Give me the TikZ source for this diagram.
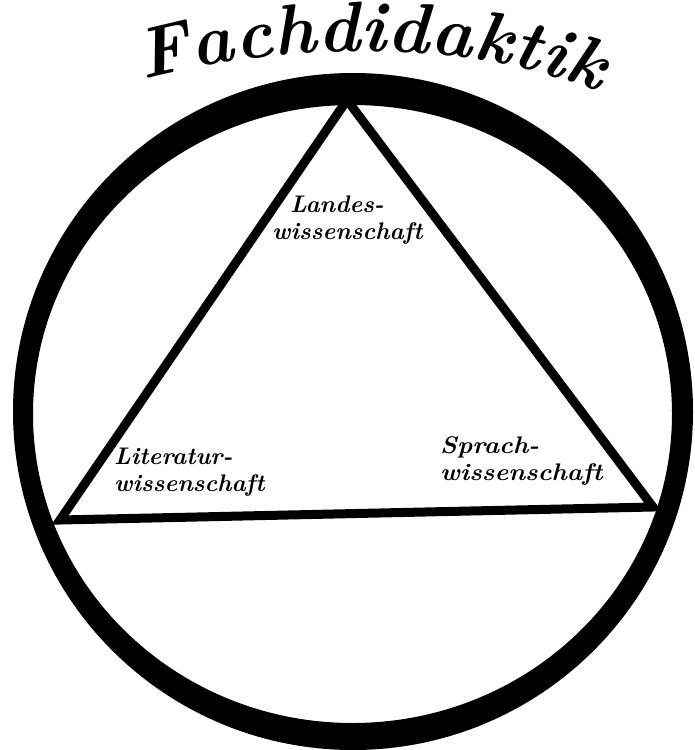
\documentclass[tikz,border=0pt]{standalone}
\usetikzlibrary{decorations.text}
\begin{document}
\begin{tikzpicture}[x=1pt,y=-1pt,
  hand/.style={font=\fontsize{24}{27}\selectfont\bfseries\itshape, inner sep=0pt, align=left},
  side/.style={line width=9pt, line cap=round, line join=miter}]
\useasboundingbox (0,0) rectangle (694,750);
\clip (0,0) rectangle (694,750);
% thick ring
\fill[black, even odd rule] (353,411.5) ellipse [x radius=340pt, y radius=338.5pt]
      (352.5,414) ellipse [x radius=319.5pt, y radius=309pt];
% triangle
\coordinate (A) at (347,100);
\coordinate (B) at (60,520);
\coordinate (C) at (653,507);
\draw[side] (A) -- (B) -- (C) -- cycle;
% title along arc
\path[decorate, decoration={text along path, text align=fit to path,
  text={|\fontsize{71}{71}\selectfont\bfseries\itshape|Fachdidaktik}}]
  (144,80) .. controls (290,40) and (470,40) .. (598,92);
% labels
\node[hand, anchor=north west] (land) at (272,196) {\hspace*{18pt}Landes-\\wissenschaft};
\node[hand, anchor=north west] (lit) at (114,448) {Literatur-\\wissenschaft};
\node[hand, anchor=north west, xscale=1.08] (spr) at (440,436) {Sprach-\\wissenschaft};
\end{tikzpicture}
\end{document}
